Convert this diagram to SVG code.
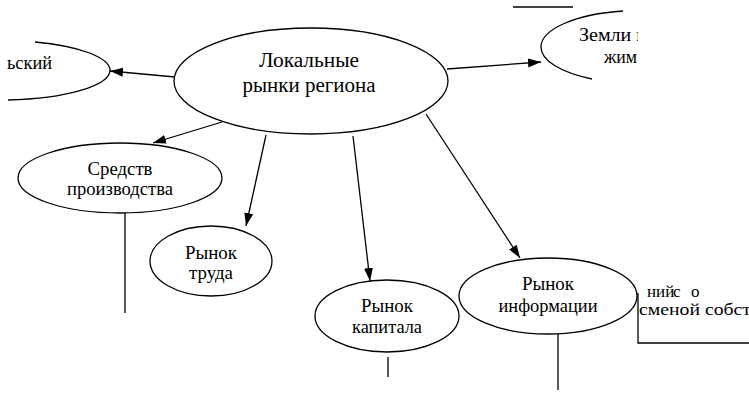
<svg xmlns="http://www.w3.org/2000/svg" width="749" height="413" viewBox="0 0 749 413">
<style>
.s{fill:none;stroke:#000;stroke-width:1.3}
.n{fill:#fff;stroke:#000;stroke-width:1.3}
.c{text-anchor:middle}
</style>
<defs>
<marker id="ah" markerUnits="userSpaceOnUse" markerWidth="14" markerHeight="10" refX="13" refY="4.5" orient="auto">
<path d="M0,0 L13,4.5 L0,9 z" fill="#000"/>
</marker>
<clipPath id="clipR"><rect x="0" y="0" width="638" height="413"/></clipPath>
</defs>
<rect width="749" height="413" fill="#fff"/>
<g id="connectors">
<line class="s" x1="175" y1="77" x2="110" y2="71" marker-end="url(#ah)"/>
<line class="s" x1="447" y1="69" x2="541" y2="62" marker-end="url(#ah)"/>
<line class="s" x1="222" y1="122" x2="153" y2="143" marker-end="url(#ah)"/>
<line class="s" x1="266" y1="135" x2="246" y2="226" marker-end="url(#ah)"/>
<line class="s" x1="353" y1="136" x2="370" y2="281" marker-end="url(#ah)"/>
<line class="s" x1="426" y1="114" x2="520" y2="258" marker-end="url(#ah)"/>
<line class="s" x1="125" y1="213" x2="125" y2="313"/>
<line class="s" x1="388" y1="357" x2="388" y2="377"/>
<line class="s" x1="558" y1="334" x2="558" y2="390"/>
<polyline class="s" points="638,293 638,343 749,343"/>
<line class="s" x1="513" y1="7" x2="573" y2="7"/>
</g>
<g font-family="'Liberation Serif', 'DejaVu Serif', serif" font-size="18.5" fill="#000">
<g id="node-left">
<path class="s" d="M35,42 A110 30 0 0 1 110 70 A110 30 0 0 1 8 100"/>
<text x="7" y="69" textLength="45" lengthAdjust="spacingAndGlyphs">ьский</text>
</g>
<g id="node-zemli">
<path class="s" d="M623,11 A99 36.5 0 0 0 541 47 A99 36.5 0 0 0 592 79"/>
<g clip-path="url(#clipR)">
<text x="579" y="41" textLength="68" lengthAdjust="spacingAndGlyphs">Земли и</text>
<text x="604" y="63" textLength="33" lengthAdjust="spacingAndGlyphs">жим</text>
</g>
</g>
<g id="node-central">
<ellipse class="n" cx="311" cy="81" rx="137" ry="53"/>
<text class="c" x="309" y="67" font-size="20.5" textLength="100" lengthAdjust="spacingAndGlyphs">Локальные</text>
<text class="c" x="309" y="92" font-size="20.5" textLength="133" lengthAdjust="spacingAndGlyphs">рынки региона</text>
</g>
<g id="node-sredstv">
<ellipse class="n" cx="120" cy="178" rx="102" ry="35"/>
<text class="c" x="120" y="175" textLength="65" lengthAdjust="spacingAndGlyphs">Средств</text>
<text class="c" x="120" y="195" textLength="106" lengthAdjust="spacingAndGlyphs">производства</text>
</g>
<g id="node-trud">
<ellipse class="n" cx="211" cy="261" rx="61" ry="35"/>
<text class="c" x="211" y="259" textLength="52" lengthAdjust="spacingAndGlyphs">Рынок</text>
<text class="c" x="211" y="279" textLength="44" lengthAdjust="spacingAndGlyphs">труда</text>
</g>
<g id="node-kapital">
<ellipse class="n" cx="387" cy="316" rx="72" ry="36"/>
<text class="c" x="387" y="312" textLength="52" lengthAdjust="spacingAndGlyphs">Рынок</text>
<text class="c" x="387" y="333" textLength="70" lengthAdjust="spacingAndGlyphs">капитала</text>
</g>
<g id="node-info">
<ellipse class="n" cx="548" cy="296" rx="89" ry="38"/>
<text class="c" x="548" y="290" textLength="52" lengthAdjust="spacingAndGlyphs">Рынок</text>
<text class="c" x="548" y="312" textLength="99" lengthAdjust="spacingAndGlyphs">информации</text>
</g>
<g id="node-right" font-size="17">
<text y="297"><tspan x="647">ний</tspan><tspan x="673">с</tspan><tspan x="691">о</tspan></text>
<text x="639" y="315" textLength="112" lengthAdjust="spacingAndGlyphs">сменой собст</text>
</g>
</g>
</svg>
